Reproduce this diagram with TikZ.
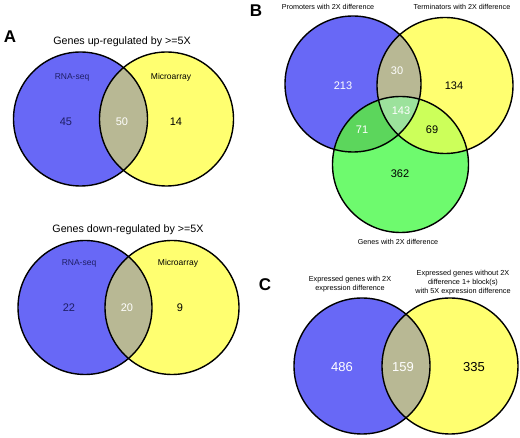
\documentclass[tikz,border=0pt]{standalone}
\usepackage{fontspec}
\setmainfont{Liberation Sans}
\definecolor{vblue}{RGB}{104,104,246}
\definecolor{vyellow}{RGB}{255,255,112}
\definecolor{vgreen}{RGB}{110,250,110}
\definecolor{vby}{RGB}{184,184,148}
\definecolor{vbg}{RGB}{92,214,92}
\definecolor{vyg}{RGB}{204,255,90}
\definecolor{vbyg}{RGB}{156,226,156}
\definecolor{navy}{RGB}{30,30,100}
\begin{document}
\begin{tikzpicture}[x=1pt,y=-1pt,
  ring/.style={draw=black, line width=1.4pt},
  paneltag/.style={font=\fontsize{17}{17}\selectfont\bfseries, inner sep=0pt},
  titletext/.style={font=\fontsize{10.7}{12}\selectfont, inner sep=0pt},
  setlabel/.style={font=\fontsize{8.5}{10}\selectfont, inner sep=0pt},
  smalllabel/.style={font=\fontsize{7.2}{9}\selectfont, inner sep=0pt, align=center},
  clabel/.style={font=\fontsize{7.3}{9}\selectfont, inner sep=0pt, align=center},
  count/.style={font=\fontsize{11}{12}\selectfont, inner sep=0pt},
  bigcount/.style={font=\fontsize{13}{14}\selectfont, inner sep=0pt}]
\useasboundingbox (0,0) rectangle (520,438);

% ---------- Panel A, top ----------
\coordinate (a1l) at (80.5,119);
\coordinate (a1r) at (166.5,119);
\fill[vblue] (a1l) circle[radius=67pt];
\fill[vyellow] (a1r) circle[radius=67pt];
\begin{scope}
  \clip (a1l) circle[radius=67pt];
  \fill[vby] (a1r) circle[radius=67pt];
\end{scope}
\draw[ring] (a1l) circle[radius=67pt];
\draw[ring] (a1r) circle[radius=67pt];
\node[paneltag] (tagA) at (10,37) {A};
\node[titletext] (t1) at (122,42) {Genes up-regulated by >=5X};
\node[setlabel, text=navy] (a1ln) at (72,77) {RNA-seq};
\node[setlabel] (a1rn) at (171,77) {Microarray};
\node[count, text=navy] (n45) at (66,122) {45};
\node[count, text=white] (n50) at (122,122) {50};
\node[count] (n14) at (176,122) {14};

% ---------- Panel A, bottom ----------
\coordinate (a2l) at (85,307.5);
\coordinate (a2r) at (172,307.5);
\fill[vblue] (a2l) circle[radius=67pt];
\fill[vyellow] (a2r) circle[radius=67pt];
\begin{scope}
  \clip (a2l) circle[radius=67pt];
  \fill[vby] (a2r) circle[radius=67pt];
\end{scope}
\draw[ring] (a2l) circle[radius=67pt];
\draw[ring] (a2r) circle[radius=67pt];
\node[titletext] (t2) at (128,230) {Genes down-regulated by >=5X};
\node[setlabel, text=navy] (a2ln) at (79,263) {RNA-seq};
\node[setlabel] (a2rn) at (178,263) {Microarray};
\node[count, text=navy] (n22) at (69,308) {22};
\node[count, text=white] (n20) at (127,308) {20};
\node[count] (n9) at (180,308) {9};

% ---------- Panel B ----------
\coordinate (bb) at (353,84);
\coordinate (by) at (445,85.5);
\coordinate (bg) at (400.5,164.5);
\fill[vblue] (bb) circle[radius=68pt];
\fill[vyellow] (by) circle[radius=68pt];
\fill[vgreen] (bg) circle[radius=68pt];
\begin{scope}
  \clip (bb) circle[radius=68pt];
  \fill[vby] (by) circle[radius=68pt];
  \fill[vbg] (bg) circle[radius=68pt];
\end{scope}
\begin{scope}
  \clip (by) circle[radius=68pt];
  \fill[vyg] (bg) circle[radius=68pt];
\end{scope}
\begin{scope}
  \clip (bb) circle[radius=68pt];
  \clip (by) circle[radius=68pt];
  \fill[vbyg] (bg) circle[radius=68pt];
\end{scope}
\draw[ring] (bb) circle[radius=68pt];
\draw[ring] (by) circle[radius=68pt];
\draw[ring] (bg) circle[radius=68pt];
\node[paneltag] (tagB) at (256,11) {B};
\node[smalllabel] (bbn) at (328,7) {Promoters with 2X difference};
\node[smalllabel] (byn) at (462,7) {Terminators with 2X difference};
\node[smalllabel] (bgn) at (398,242) {Genes with 2X difference};
\node[count, text=white] (n213) at (343,86) {213};
\node[count, text=white] (n30) at (397,71) {30};
\node[count] (n134) at (454,86) {134};
\node[count, text=white] (n143) at (401,111) {143};
\node[count, text=white] (n71) at (362,130) {71};
\node[count] (n69) at (432,130) {69};
\node[count] (n362) at (400,174) {362};

% ---------- Panel C ----------
\coordinate (cl) at (362,366);
\coordinate (cr) at (450,366);
\fill[vblue] (cl) circle[radius=68pt];
\fill[vyellow] (cr) circle[radius=68pt];
\begin{scope}
  \clip (cl) circle[radius=68pt];
  \fill[vby] (cr) circle[radius=68pt];
\end{scope}
\draw[ring] (cl) circle[radius=68pt];
\draw[ring] (cr) circle[radius=68pt];
\node[paneltag] (tagC) at (265,285) {C};
\node[clabel] (cln) at (350,284.5) {Expressed genes with 2X\\expression difference};
\node[clabel] (crn) at (463,283) {Expressed genes without 2X\\difference 1+ block(s)\\with 5X expression difference};
\node[bigcount, text=white] (n486) at (342,367) {486};
\node[bigcount, text=white] (n159) at (403,367) {159};
\node[bigcount] (n335) at (474,367) {335};
\end{tikzpicture}
\end{document}
